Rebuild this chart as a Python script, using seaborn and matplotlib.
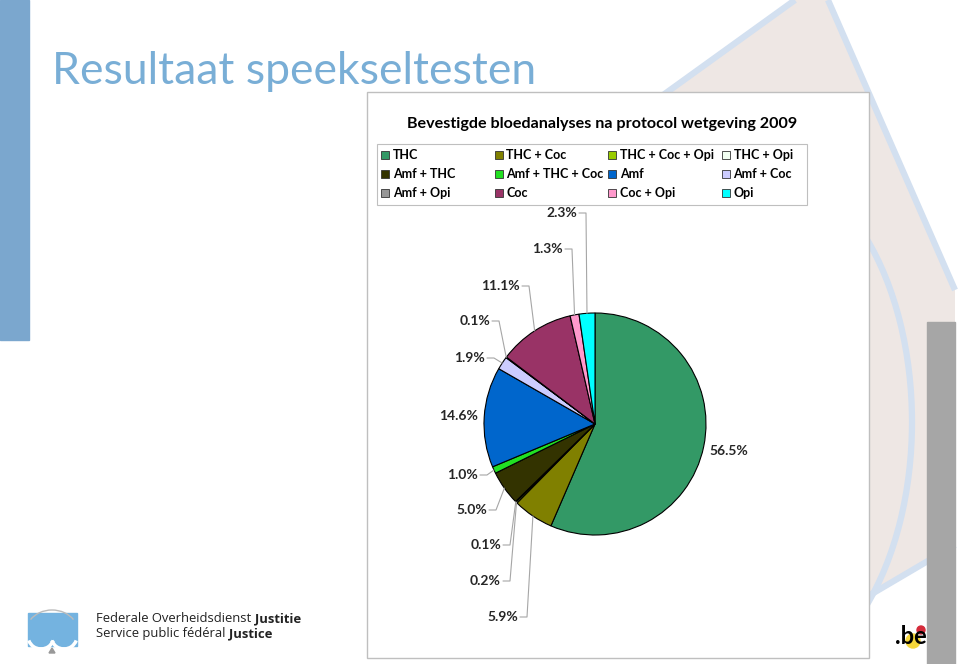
import matplotlib
matplotlib.use("Agg")
import matplotlib.pyplot as plt
import matplotlib.patches as mpatches
import numpy as np
import seaborn as sns

# data
categories = ["THC", "THC + Coc", "THC + Coc + Opi", "THC + Opi",
              "Amf + THC", "Amf + THC + Coc", "Amf", "Amf + Coc",
              "Amf + Opi", "Coc", "Coc + Opi", "Opi"]
shares = [56.5, 5.9, 0.2, 0.1, 5.0, 1.0, 14.6, 1.9, 0.1, 11.1, 1.3, 2.3]
colors = ["#339966", "#808000", "#99CC00", "#F2FFF2", "#333300", "#22E022",
          "#0066CC", "#CCCCFF", "#969696", "#993366", "#FF99CC", "#00FFFF"]

# label anchor (pixel) for each slice label: right edge for the left-hand ones
label_pos = [(709, 451), (518, 617), (501, 581), (501, 545), (487, 510),
             (478, 475), (478, 416), (485, 358), (490, 321), (520, 286),
             (563, 249), (577, 213)]
no_leader = {0, 6}

sns.set_style("white")
plt.rcParams["font.family"] = ["Lato", "DejaVu Sans"]

W, H = 960, 664
fig = plt.figure(figsize=(W / 100, H / 100), dpi=100)

# background layer in pixel coordinates
bg = fig.add_axes([0, 0, 1, 1], zorder=0)
bg.set_xlim(0, W)
bg.set_ylim(H, 0)
bg.axis("off")

blue_line = "#D3E0F0"
bg.add_patch(mpatches.Polygon([(795, 0), (828, 0), (955, 290), (955, 545),
                               (870, 595), (559, 170)],
                              closed=True, facecolor="#EEE7E4", edgecolor="none",
                              zorder=1))
bg.plot([795, 559], [0, 170], color=blue_line, lw=4.5, solid_capstyle="butt", zorder=2)
bg.plot([828, 955], [0, 290], color=blue_line, lw=4.5, solid_capstyle="butt", zorder=2)
bg.plot([955, 870], [545, 595], color=blue_line, lw=4.5, solid_capstyle="butt", zorder=2)
bg.add_patch(mpatches.Arc((760, 422), 304, 514, theta1=-60, theta2=60,
                          color=blue_line, lw=4.5, zorder=2))
bg.add_patch(mpatches.Rectangle((0, 0), 29, 340, color="#7BA7CE", zorder=3))
bg.add_patch(mpatches.Rectangle((927, 322), 28, 342, color="#A6A6A6", zorder=3))

bg.text(52, 72, "Resultaat speekseltesten", fontsize=32, color="#79AED6",
        va="center", ha="left", zorder=3)

# chart area
bg.add_patch(mpatches.Rectangle((367, 92), 502, 566, facecolor="white",
                                edgecolor="#BFBFBF", lw=1, zorder=4))
bg.text(602, 124, "Bevestigde bloedanalyses na protocol wetgeving 2009",
        fontsize=11.6, fontweight="bold", ha="center", va="center",
        color="black", zorder=5)

# legend box and entries
bg.add_patch(mpatches.Rectangle((377, 144), 430, 61, facecolor="white",
                                edgecolor="#BFBFBF", lw=0.8, zorder=5))
for i, (name, col) in enumerate(zip(categories, colors)):
    r, c = divmod(i, 4)
    x = 381 + 113.5 * c
    y = 155 + 19 * r
    bg.add_patch(mpatches.Rectangle((x, y - 4), 8, 8, facecolor=col,
                                    edgecolor="#333333", lw=0.6, zorder=6))
    bg.text(x + 12, y, name, fontsize=9, fontweight="bold", va="center",
            ha="left", color="black", zorder=6)

# footer logos
bg.add_patch(mpatches.Rectangle((28, 613), 49, 33, color="#74B3E0", zorder=3))
bg.add_patch(mpatches.Arc((41, 636), 26, 26, theta1=20, theta2=160, color="white",
                          lw=2.5, zorder=4))
bg.add_patch(mpatches.Arc((64, 636), 26, 26, theta1=20, theta2=160, color="white",
                          lw=2.5, zorder=4))
bg.add_patch(mpatches.Arc((52, 632), 52, 44, theta1=-150, theta2=-30,
                          color="#BBBBBB", lw=1, zorder=4))
bg.add_patch(mpatches.Polygon([(49, 653), (55, 653), (52, 648)], color="#999999",
                              zorder=4))

renderer = fig.canvas.get_renderer()
for yy, reg, bold in [(619, "Federale Overheidsdienst ", "Justitie"),
                      (634, "Service public fédéral ", "Justice")]:
    t = bg.text(96, yy, reg, fontsize=9.4, family=["Open Sans", "DejaVu Sans"],
                va="center", ha="left", color="#222222", zorder=4)
    ext = t.get_window_extent(renderer=renderer)
    bg.text(96 + ext.width, yy, bold, fontsize=9.4, fontweight="bold",
            family=["Open Sans", "DejaVu Sans"], va="center", ha="left",
            color="#222222", zorder=4)

bg.add_patch(mpatches.Circle((913, 641), 7, color="#F5D63A", zorder=4))
bg.add_patch(mpatches.Circle((921, 630), 4, color="#D52B3A", zorder=4))
bg.text(911, 637, ".be", fontsize=17, fontweight="bold", ha="center",
        va="center", color="black", zorder=5)

# pie
cx, cy, rad = 595, 424, 111
ax = fig.add_axes([(cx - rad) / W, (H - cy - rad) / H, 2 * rad / W, 2 * rad / H],
                  zorder=2)
wedges, _ = ax.pie(shares, colors=colors, startangle=90, counterclock=False,
                   wedgeprops=dict(edgecolor="black", linewidth=0.8))
ax.set_xlim(-1, 1)
ax.set_ylim(-1, 1)
ax.set_aspect("equal")

# labels and leader lines on top
fg = fig.add_axes([0, 0, 1, 1], zorder=3)
fg.set_xlim(0, W)
fg.set_ylim(H, 0)
fg.axis("off")
fg.patch.set_alpha(0)

for i, (w, val) in enumerate(zip(wedges, shares)):
    lx, ly = label_pos[i]
    txt = f"{val:.1f}%"
    if i == 0:
        fg.text(lx, ly, txt, fontsize=10, fontweight="bold", ha="left", va="center")
        continue
    fg.text(lx, ly, txt, fontsize=10, fontweight="bold", ha="right", va="center")
    if i in no_leader:
        continue
    mid = np.deg2rad((w.theta1 + w.theta2) / 2)
    dx, dy = ax.transData.transform((np.cos(mid), np.sin(mid)))
    px, py = dx, H - dy
    fg.plot([lx + 2, lx + 9, px], [ly, ly, py], color="#A6A6A6", lw=0.8)

fig.savefig("out.png", dpi=100)
